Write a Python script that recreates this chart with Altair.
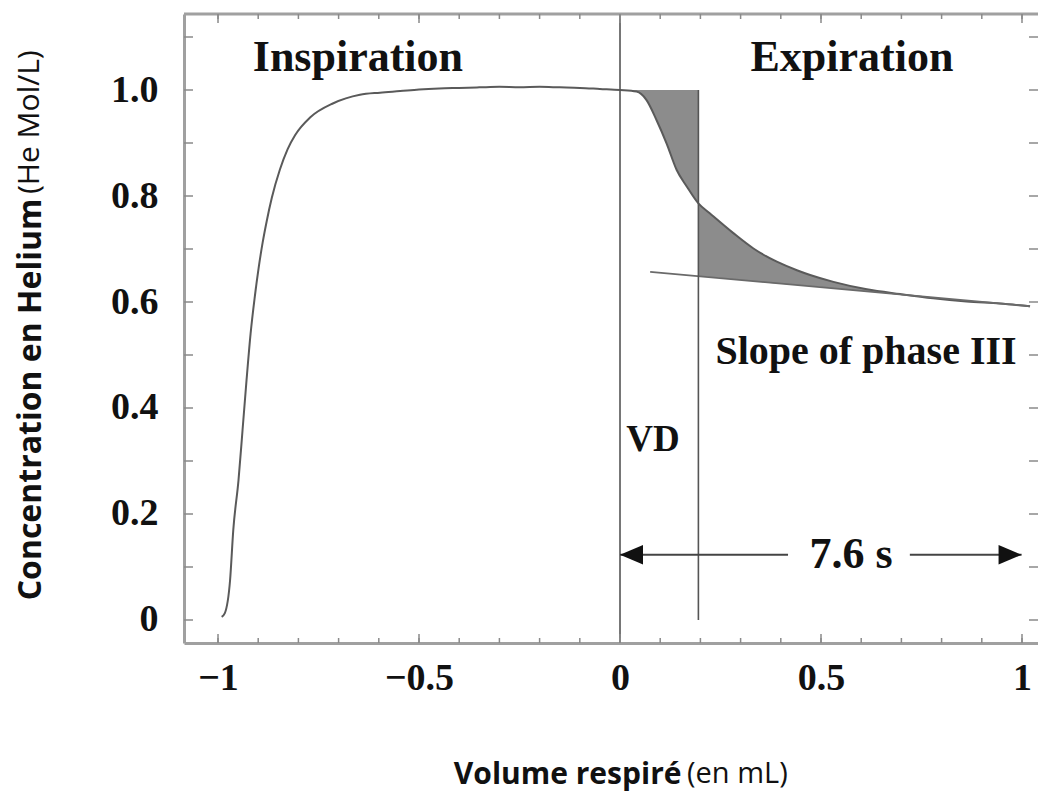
import altair as alt
import pandas as pd

# ---------------- data ----------------
# helium concentration trace (inspiration then expiration)
insp_x = [-0.991, -0.983, -0.970, -0.962, -0.949, -0.939, -0.929, -0.919, -0.909, -0.899,
          -0.889, -0.879, -0.866, -0.846, -0.827, -0.808, -0.771, -0.713, -0.647, -0.597,
          -0.547, -0.50, -0.45, -0.40, -0.35, -0.30, -0.25, -0.20, -0.15, -0.10, -0.05, 0.0]
insp_y = [0.006, 0.013, 0.075, 0.170, 0.264, 0.358, 0.453, 0.540, 0.607, 0.664,
          0.712, 0.752, 0.797, 0.850, 0.888, 0.915, 0.948, 0.975, 0.991, 0.995,
          0.998, 1.001, 1.003, 1.004, 1.005, 1.006, 1.005, 1.006, 1.005, 1.004, 1.002, 1.0]
exp_x = [0.041, 0.066, 0.091, 0.116, 0.141, 0.166, 0.195, 0.224, 0.282, 0.332,
         0.390, 0.440, 0.473, 0.531, 0.614, 0.697, 0.779, 0.862, 0.945, 1.02]
exp_y = [0.997, 0.981, 0.943, 0.899, 0.849, 0.818, 0.786, 0.767, 0.730, 0.701,
         0.676, 0.660, 0.651, 0.638, 0.624, 0.615, 0.607, 0.601, 0.597, 0.592]

# shaded area 1 (dead space): between curve and plateau, x from 0 to VD
shade1_x = [0.0, 0.041, 0.066, 0.091, 0.116, 0.141, 0.166, 0.195]
shade1_curve = [1.0, 0.997, 0.981, 0.943, 0.899, 0.849, 0.818, 0.786]
shade1_top = [1.0, 1.0, 1.0, 1.0, 1.0, 1.0, 1.0, 1.0]
# shaded area 2: between curve and phase III slope line
shade2_x = [0.195, 0.224, 0.282, 0.332, 0.390, 0.440, 0.473, 0.531, 0.614, 0.697]
shade2_curve = [0.786, 0.767, 0.730, 0.701, 0.676, 0.660, 0.651, 0.638, 0.624, 0.615]
shade2_base = [0.649, 0.647, 0.643, 0.639, 0.635, 0.632, 0.630, 0.626, 0.620, 0.614]

# slope of phase III line
slope_x = [0.075, 1.02]
slope_y = [0.657, 0.592]

# vertical markers
zero_line_x = [0.0]
vd_x = [0.195]
vd_y = [0.0]
vd_y2 = [1.0]

# 7.6 s arrow
arrow_y = [0.123, 0.123]
arrow_seg_x = [0.0, 0.721]
arrow_seg_x2 = [0.418, 0.999]
arrow_tip_x = [0.0, 0.999]

# annotations
ann_text = ["Inspiration", "Expiration", "Slope of phase III", "VD", "7.6 s"]
ann_x = [-0.652, 0.577, 0.612, 0.082, 0.575]
ann_y = [1.060, 1.060, 0.506, 0.340, 0.123]
ann_size = [44, 44, 40, 37, 44]

# axis ticks
x_labels = [-1.0, -0.5, 0.0, 0.5, 1.0]
x_minor = [round(-1.0 + 0.1 * i, 1) for i in range(21)]
y_labels = [0.0, 0.2, 0.4, 0.6, 0.8, 1.0]
y_minor = [round(0.1 * i, 1) for i in range(12)]

# ---------------- chart ----------------
W, H = 854, 629
xscale = alt.Scale(domain=[-1.0846, 1.0398], nice=False, zero=False)
yscale = alt.Scale(domain=[-0.0434, 1.1434], nice=False, zero=False)

frame_col = "#a0a0a0"
tick_col = "#8a8a8a"
title_font = "Open Sans"

xaxis = alt.Axis(values=x_labels, format="~g", grid=False, ticks=False, tickSize=0,
                 labelFont="Liberation Serif", labelFontWeight="bold", labelFontSize=38,
                 labelColor="#111111", labelPadding=16,
                 domainColor=frame_col, domainWidth=3,
                 title="Volume respiré", titleFont=title_font, titleFontWeight="bold",
                 titleFontSize=30, titleColor="#111111", titleAlign="right",
                 titleBaseline="alphabetic", titleX=497, titleY=140)
yaxis = alt.Axis(values=y_labels, grid=False, ticks=False, tickSize=0,
                 labelExpr="datum.value == 0 ? '0' : format(datum.value, '.1f')",
                 labelFont="Liberation Serif", labelFontWeight="bold", labelFontSize=38,
                 labelColor="#111111", labelPadding=26, labelBaseline="middle",
                 domainColor=frame_col, domainWidth=3,
                 title="Concentration en Helium", titleFont=title_font, titleFontWeight="bold",
                 titleFontSize=32, titleColor="#111111", titleAngle=270,
                 titleAlign="right", titleBaseline="middle", titleX=-154, titleY=184)

X = alt.X("x:Q", scale=xscale, axis=xaxis)
Y = alt.Y("y:Q", scale=yscale, axis=yaxis)

curve_df = pd.DataFrame({"x": insp_x + exp_x, "y": insp_y + exp_y})
s1 = pd.DataFrame({"x": shade1_x, "y": shade1_curve, "y2": shade1_top})
s2 = pd.DataFrame({"x": shade2_x, "y": shade2_curve, "y2": shade2_base})
slope_df = pd.DataFrame({"x": slope_x, "y": slope_y})
zero_df = pd.DataFrame({"x": zero_line_x})
vd_df = pd.DataFrame({"x": vd_x, "y": vd_y, "y2": vd_y2})
arr_df = pd.DataFrame({"x": arrow_seg_x, "x2": arrow_seg_x2, "y": arrow_y})
tipL = pd.DataFrame({"x": arrow_tip_x[:1], "y": arrow_y[:1]})
tipR = pd.DataFrame({"x": arrow_tip_x[1:], "y": arrow_y[1:]})
ann_df = pd.DataFrame({"x": ann_x, "y": ann_y, "t": ann_text, "s": ann_size})
xmaj_df = pd.DataFrame({"x": x_labels})
xmin_df = pd.DataFrame({"x": x_minor})
ytk_df = pd.DataFrame({"y": y_minor})
one = pd.DataFrame({"k": [0]})

shade_col = "#8c8c8c"
area1 = alt.Chart(s1).mark_area(color=shade_col, opacity=1, interpolate="monotone").encode(
    x=X, y=Y, y2="y2:Q")
area2 = alt.Chart(s2).mark_area(color=shade_col, opacity=1, interpolate="monotone").encode(
    x=X, y=Y, y2="y2:Q")
curve = alt.Chart(curve_df).mark_line(color="#5a5a5a", strokeWidth=2,
                                      interpolate="monotone").encode(x=X, y=Y)
slope = alt.Chart(slope_df).mark_line(color="#6a6a6a", strokeWidth=1.8).encode(x=X, y=Y)
zero_rule = alt.Chart(zero_df).mark_rule(color="#555555", strokeWidth=1.6).encode(x=X)
vd_rule = alt.Chart(vd_df).mark_rule(color="#555555", strokeWidth=1.6).encode(x=X, y=Y, y2="y2:Q")
arrows = alt.Chart(arr_df).mark_rule(color="#444444", strokeWidth=2).encode(x=X, x2="x2:Q", y=Y)
headL = alt.Chart(tipL).mark_point(shape="M0,0L2,-0.85L2,0.85Z", filled=True, size=530,
                                   color="#111111", opacity=1).encode(x=X, y=Y)
headR = alt.Chart(tipR).mark_point(shape="M0,0L-2,-0.85L-2,0.85Z", filled=True, size=530,
                                   color="#111111", opacity=1).encode(x=X, y=Y)
ann = alt.Chart(ann_df).mark_text(font="Liberation Serif", fontWeight="bold", color="#111111",
                                  align="center", baseline="middle").encode(
    x=X, y=Y, text="t:N", size=alt.Size("s:Q", scale=None, legend=None))

# frame top and tick marks (inward)
top_frame = alt.Chart(one).mark_rule(color=frame_col, strokeWidth=3).encode(
    x=alt.value(0), x2=alt.value(W), y=alt.value(0))
tb_major = alt.Chart(xmaj_df).mark_rule(color=tick_col, strokeWidth=1.5).encode(
    x=X, y=alt.value(H), y2=alt.value(H - 9))
tb_minor = alt.Chart(xmin_df).mark_rule(color=tick_col, strokeWidth=1.5).encode(
    x=X, y=alt.value(H), y2=alt.value(H - 5))
tt_major = alt.Chart(xmaj_df).mark_rule(color=tick_col, strokeWidth=1.5).encode(
    x=X, y=alt.value(0), y2=alt.value(9))
tt_minor = alt.Chart(xmin_df).mark_rule(color=tick_col, strokeWidth=1.5).encode(
    x=X, y=alt.value(0), y2=alt.value(5))
tl = alt.Chart(ytk_df).mark_rule(color=tick_col, strokeWidth=1.5).encode(
    y=Y, x=alt.value(0), x2=alt.value(9))
tr = alt.Chart(ytk_df).mark_rule(color=tick_col, strokeWidth=1.5).encode(
    y=Y, x=alt.value(W), x2=alt.value(W - 9))

unit_y = alt.Chart(one).mark_text(text="(He Mol/L)", font=title_font, fontSize=30, angle=270,
                                  align="left", baseline="middle", color="#111111").encode(
    x=alt.value(-154), y=alt.value(180))
unit_x = alt.Chart(one).mark_text(text="(en mL)", font=title_font, fontSize=29,
                                  align="left", baseline="alphabetic", color="#111111").encode(
    x=alt.value(503), y=alt.value(H + 140))

chart = alt.layer(
    area1, area2, curve, slope, zero_rule, vd_rule, arrows, headL, headR, ann,
    top_frame, tb_major, tb_minor, tt_major, tt_minor, tl, tr, unit_y, unit_x
).properties(
    width=W, height=H,
    autosize=alt.AutoSizeParams(type="none"),
    padding={"left": 176, "top": 6, "right": 0, "bottom": 149},
    background="white",
).configure_view(stroke=None)

chart.save("out.html", embed_options={"renderer": "svg", "actions": False})
